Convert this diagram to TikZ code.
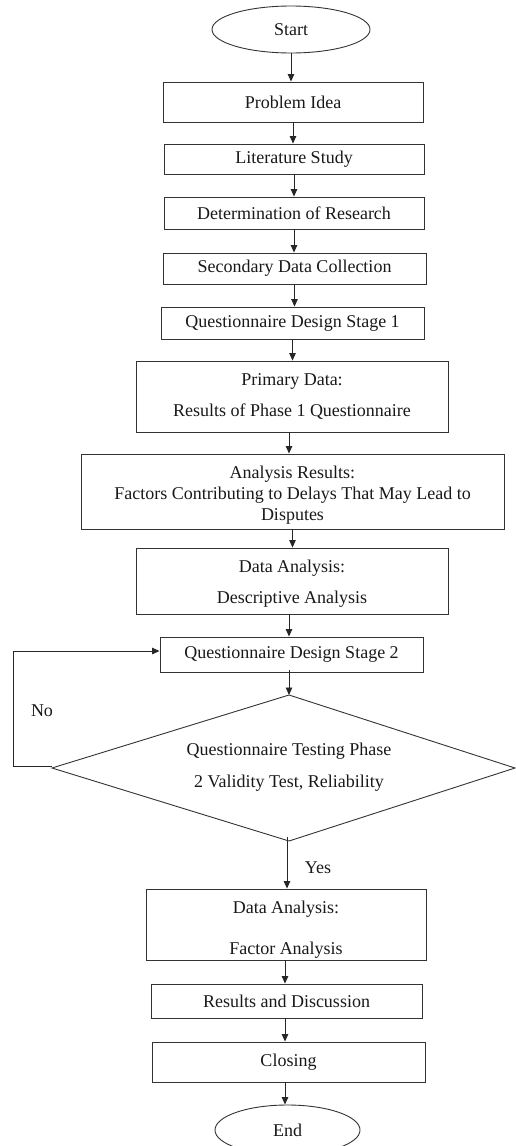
\documentclass[tikz,border=0pt]{standalone}
\usepackage{fontspec}
\setmainfont{Liberation Serif}
\usetikzlibrary{arrows.meta,shapes.geometric}
\begin{document}
\begin{tikzpicture}[x=1pt,y=-1pt,
  every node/.style={font=\fontsize{18}{21}\selectfont, text=black!90},
  box/.style={draw=black!80, line width=0.9pt, rectangle, inner sep=0pt, align=center},
  term/.style={draw=black!80, line width=0.9pt, ellipse, inner sep=0pt},
  arr/.style={draw=black!85, line width=0.9pt, -{Triangle[length=7.5pt,width=6.5pt]}},
  edge/.style={draw=black!80, line width=0.9pt}
]
\useasboundingbox (0,0) rectangle (515,1146);

% terminals
\node[term, minimum width=158pt, minimum height=47pt] (start) at (291,29.5) {Start};
\node[term, minimum width=145pt, minimum height=50pt] (end) at (287.5,1130) {End};

% process steps
\node[box, minimum width=260pt, minimum height=40pt] (prob) at (293,102) {Problem Idea};
\node[box, minimum width=260pt, minimum height=30pt] (lit) at (294,159) {Literature Study};
\node[box, minimum width=260pt, minimum height=32pt] (det) at (294,213) {Determination of Research};
\node[box, minimum width=263pt, minimum height=31pt] (sec) at (294.5,268.5) {Secondary Data Collection};
\node[box, minimum width=263pt, minimum height=32pt] (qd1) at (292.5,323) {Questionnaire Design Stage 1};
\node[box, minimum width=312pt, minimum height=71pt] (prim) at (292,396.5)
  {Primary Data:\\[10pt]Results of Phase 1 Questionnaire};
\node[box, minimum width=423pt, minimum height=75pt] (ar) at (292.5,491.5)
  {\rule{0pt}{20pt}Analysis Results:\\Factors Contributing to Delays That May Lead to\\Disputes};
\node[box, minimum width=312pt, minimum height=66pt] (da) at (292,581)
  {\rule{0pt}{18pt}Data Analysis:\\[10pt]Descriptive Analysis};
\node[box, minimum width=263pt, minimum height=35pt] (qd2) at (291.5,654.5) {Questionnaire Design Stage 2};

% decision
\coordinate (dtop) at (289,695);
\coordinate (dright) at (515,768);
\coordinate (dbot) at (289,841);
\coordinate (dleft) at (52,768);
\draw[edge] (dtop) -- (dright) -- (dbot) -- (dleft) -- cycle;
\node[align=center] (test) at (289,767)
  {Questionnaire Testing Phase\\[11pt]2 Validity Test, Reliability};

\node[box, minimum width=280pt, minimum height=71pt] (fa) at (286,924.5)
  {\rule{0pt}{23pt}Data Analysis:\\[20pt]Factor Analysis};
\node[box, minimum width=271pt, minimum height=34pt] (rd) at (286.5,1001) {Results and Discussion};
\node[box, minimum width=273pt, minimum height=40pt] (clo) at (288.5,1062) {Closing};

% labels
\node (no) at (42,711) {No};
\node (yes) at (318,868) {Yes};

% connectors
\draw[arr] (start.south) -- (start.south |- prob.north);
\draw[arr] (prob.south) -- (prob.south |- lit.north);
\draw[arr] (lit.south) -- (lit.south |- det.north);
\draw[arr] (det.south) -- (det.south |- sec.north);
\draw[arr] (sec.south) -- (sec.south |- qd1.north);
\draw[arr] (qd1.south) -- (qd1.south |- prim.north);
\draw[arr] ([xshift=-3pt]prim.south) -- ([xshift=-3pt]prim.south |- ar.north);
\draw[arr] (ar.south) -- (ar.south |- da.north);
\draw[arr] ([xshift=-3pt]da.south) -- ([xshift=-3pt]da.south |- qd2.north);
\draw[arr] ([xshift=-2.5pt,yshift=2pt]qd2.south) -- (dtop);
\draw[arr] ([xshift=-2pt,yshift=4pt]dbot) -- ([xshift=-2pt]dbot |- fa.north);
\draw[arr] ([xshift=-1pt]fa.south) -- ([xshift=-1pt]fa.south |- rd.north);
\draw[arr] ([xshift=-1.5pt]rd.south) -- ([xshift=-1.5pt]rd.south |- clo.north);
\draw[arr] ([xshift=-3.5pt]clo.south) -- ([xshift=-3.5pt]clo.south |- end.north);

% "No" loop back to the design stage
\draw[arr] ([yshift=2pt]dleft) -- ++(-39,0) |- ([yshift=3.5pt]qd2.west);
\end{tikzpicture}
\end{document}
